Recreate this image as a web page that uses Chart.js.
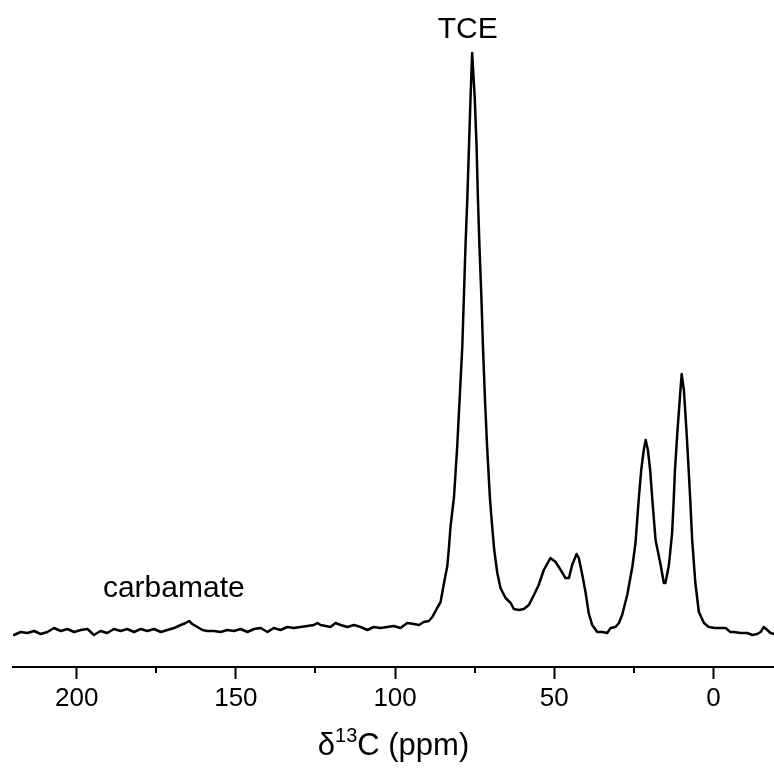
<!DOCTYPE html>
<html>
<head>
<meta charset="utf-8">
<script src="https://cdn.jsdelivr.net/npm/chart.js@4"></script>
<style>
  html, body { margin: 0; padding: 0; background: #fff; }
  #wrap { width: 774px; height: 771px; position: relative; }
</style>
</head>
<body>
<div id="wrap"><canvas id="nmr"></canvas></div>
<script>
// chemical shift (ppm), high to low field
const shift = [
  219.7, 217.6, 215.5, 213.4, 211.3, 209.2, 207.1, 205.0, 202.9, 200.8,
  198.7, 196.6, 194.6, 192.5, 190.4, 188.3, 186.2, 184.1, 182.0, 179.9,
  177.8, 175.7, 173.6, 171.5, 169.4, 167.3, 165.8, 164.7, 163.7, 162.1,
  160.5, 159.0, 156.9, 154.8, 152.7, 150.6, 148.5, 146.4, 144.3, 142.2,
  140.1, 138.1, 136.0, 133.9, 131.8, 129.7, 127.6, 125.5, 124.4, 123.4,
  121.8, 120.3, 118.7, 117.1, 115.0, 112.9, 110.8, 108.7, 106.7, 104.6,
  102.5, 100.4, 98.3, 96.2, 94.1, 92.5, 91.0, 89.4, 88.3, 86.8,
  85.7, 84.7, 83.6, 83.1, 82.6, 81.5, 80.5, 79.7, 78.9, 78.4,
  77.9, 77.3, 76.8, 76.3, 75.8, 75.0, 74.4, 74.0, 73.5, 72.9,
  72.4, 71.8, 71.1, 70.2, 69.5, 68.9, 67.9, 66.9, 65.3, 63.7,
  62.7, 61.1, 59.6, 58.0, 56.4, 54.9, 53.3, 51.2, 49.6, 48.0,
  46.5, 45.4, 44.4, 43.0, 42.3, 41.2, 40.2, 39.2, 38.1, 36.5,
  34.9, 33.4, 32.3, 30.8, 29.7, 28.7, 27.1, 25.5, 24.5, 23.5,
  22.7, 21.9, 21.3, 20.6, 19.9, 19.2, 18.2, 16.6, 15.6, 15.1,
  14.0, 13.0, 12.5, 12.1, 11.3, 10.5, 10.0, 9.3, 8.5, 7.8,
  7.3, 6.7, 5.7, 4.6, 3.0, 1.5, -0.6, -2.2, -3.8, -5.3,
  -6.4, -8.5, -10.6, -12.2, -13.7, -14.8, -15.8, -16.9, -17.9, -19.2
];

// signal intensity (arb. units)
const intensity = [
  -3, 0, -1, 1, -2, 0, 4, 1, 3, 0,
  2, 3, -3, 1, -1, 3, 1, 3, 0, 3,
  1, 3, 0, 2, 4, 7, 9, 11, 8, 5,
  2, 1, 1, 0, 2, 1, 3, 0, 3, 4,
  0, 4, 2, 5, 4, 5, 6, 7, 9, 7,
  6, 5, 9, 7, 5, 7, 5, 2, 5, 4,
  5, 6, 4, 9, 8, 7, 10, 11, 15, 24,
  30, 48, 66, 84, 105, 135, 185, 235, 285, 335,
  385, 435, 485, 535, 579, 535, 485, 435, 385, 335,
  285, 235, 185, 133, 105, 83, 59, 44, 34, 29,
  23, 22, 23, 27, 37, 47, 62, 74, 70, 62,
  54, 54, 67, 78, 74, 57, 40, 19, 7, 0,
  0, -1, 4, 5, 9, 17, 37, 65, 89, 132,
  162, 182, 192, 182, 162, 132, 92, 67, 49, 49,
  67, 99, 132, 162, 202, 237, 258, 242, 202, 162,
  132, 92, 49, 20, 9, 5, 4, 4, 4, 0,
  0, -1, -1, -3, -2, 0, 5, 2, -1, -2
];

const majorTicks = [200, 150, 100, 50, 0];
const minorTicks = [175, 125, 75, 25];

// peak labels: [text, shift, intensity]
const peakLabels = [
  ['TCE', 77.2, 594],
  ['carbamate', 169.5, 35]
];

const FONT = '"Liberation Sans", Arial, sans-serif';

const decorations = {
  id: 'decorations',
  afterDraw(chart) {
    const ctx = chart.ctx;
    const x = chart.scales.x;
    const y = chart.scales.y;
    const area = chart.chartArea;
    ctx.save();

    // short minor ticks
    ctx.strokeStyle = '#000';
    ctx.lineWidth = 2;
    minorTicks.forEach(v => {
      const px = Math.round(x.getPixelForValue(v));
      ctx.beginPath();
      ctx.moveTo(px, area.bottom);
      ctx.lineTo(px, area.bottom + 6);
      ctx.stroke();
    });

    // peak annotations
    ctx.fillStyle = '#000';
    ctx.font = '30px ' + FONT;
    ctx.textAlign = 'center';
    ctx.textBaseline = 'alphabetic';
    peakLabels.forEach(([t, s, i]) => {
      ctx.fillText(t, x.getPixelForValue(s), y.getPixelForValue(i));
    });

    // axis title with superscript
    const base = chart.height - 16;
    const big = '31px ' + FONT;
    const small = '20px ' + FONT;
    ctx.textAlign = 'left';
    ctx.font = big;
    const w1 = ctx.measureText('\u03B4').width;
    const w3 = ctx.measureText('C (ppm)').width;
    ctx.font = small;
    const w2 = ctx.measureText('13').width;
    let cx = (area.left + area.right) / 2 - (w1 + w2 + w3) / 2;
    ctx.font = big;
    ctx.fillText('\u03B4', cx, base);
    cx += w1;
    ctx.font = small;
    ctx.fillText('13', cx, base - 13);
    cx += w2;
    ctx.font = big;
    ctx.fillText('C (ppm)', cx, base);

    ctx.restore();
  }
};

new Chart(document.getElementById('nmr'), {
  type: 'line',
  data: {
    datasets: [{
      data: shift.map((s, i) => ({ x: s, y: intensity[i] })),
      borderColor: '#000',
      borderWidth: 2.5,
      borderJoinStyle: 'round',
      borderCapStyle: 'round',
      pointRadius: 0,
      tension: 0,
      fill: false
    }]
  },
  options: {
    responsive: true,
    maintainAspectRatio: false,
    animation: false,
    layout: { padding: { top: 7, left: 13, right: 0, bottom: 0 } },
    plugins: {
      legend: { display: false },
      tooltip: { enabled: false }
    },
    scales: {
      x: {
        type: 'linear',
        reverse: true,
        min: -19,
        max: 220,
        afterBuildTicks: scale => {
          scale.ticks = majorTicks.map(v => ({ value: v }));
        },
        afterFit: scale => { scale.height = 104; },
        border: { display: true, color: '#000', width: 2 },
        grid: {
          drawOnChartArea: false,
          drawTicks: true,
          tickLength: 12,
          tickWidth: 2,
          tickColor: '#000'
        },
        ticks: {
          color: '#000',
          padding: 4,
          maxRotation: 0,
          font: { family: FONT, size: 26 }
        }
      },
      y: {
        display: false,
        min: -35,
        max: 625
      }
    }
  },
  plugins: [decorations]
});
</script>
</body>
</html>
